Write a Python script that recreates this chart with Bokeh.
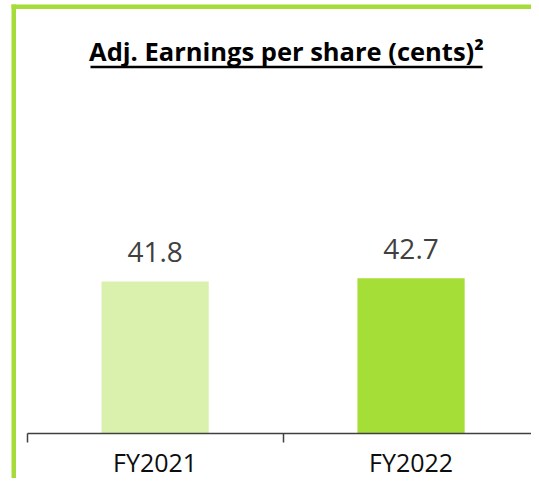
from bokeh.plotting import figure
from bokeh.models import Range1d, FixedTicker, Label
from bokeh.core.properties import value
from bokeh.embed import file_html
from bokeh.resources import INLINE

# ---- data ----
categories = ["FY2021", "FY2022"]
eps_values = [41.8, 42.7]
bar_colors = ["#d9f1ad", "#a6de38"]
title_text = "Adj. Earnings per share (cents)\u00b2"

# ---- layout (canvas pixels) ----
W, H = 531, 478
AX_LEFT, AX_RIGHT = 26.7, 538.5   # canvas x of category boundaries 0 and N
AX_Y = 433.3                      # canvas y of the baseline
PX_PER_UNIT = 3.644
GREEN = "#a6dc3a"

n = len(categories)
xs = [i + 0.5 for i in range(n)]
boundaries = list(range(n + 1))

ppx = (AX_RIGHT - AX_LEFT) / n
x_start = -AX_LEFT / ppx
x_end = (W - AX_LEFT) / ppx
y_start = -(H - AX_Y) / PX_PER_UNIT
y_end = AX_Y / PX_PER_UNIT


def dx(px):
    return x_start + px / ppx


def dy(py):
    return y_end - py / PX_PER_UNIT


p = figure(width=W, height=H, output_backend="svg", toolbar_location=None,
           title=None,
           x_range=Range1d(x_start, x_end), y_range=Range1d(y_start, y_end),
           y_axis_location=None, min_border=0)
p.outline_line_color = None
p.grid.visible = False
p.background_fill_color = "white"
p.border_fill_color = "white"

# decorative green frame edges (left and top), canvas pixels -> data
p.segment(x0=[dx(13.25)], y0=[dy(4)], x1=[dx(13.25)], y1=[dy(H + 10)],
          line_color=GREEN, line_width=4.5, line_cap="butt")
p.segment(x0=[dx(11)], y0=[dy(6.25)], x1=[dx(W + 20)], y1=[dy(6.25)],
          line_color=GREEN, line_width=4.5, line_cap="butt")
# title underline
p.segment(x0=[dx(90)], y0=[dy(66.5)], x1=[dx(482)], y1=[dy(66.5)],
          line_color="black", line_width=2.6, line_cap="butt")

p.vbar(x=xs, top=eps_values, bottom=0, width=0.419, color=bar_colors, line_color=None)
p.text(x=xs, y=eps_values, text=[f"{v:.1f}" for v in eps_values],
       text_align="center", text_baseline="alphabetic", y_offset=-29.3,
       text_font=value("Open Sans"), text_font_size="28px", text_color="#404040")

ax = p.xaxis[0]
ax.fixed_location = 0
ax.bounds = (0, n)
ax.ticker = FixedTicker(ticks=xs, minor_ticks=boundaries)
ax.major_label_overrides = {x: c for x, c in zip(xs, categories)}
ax.major_tick_line_color = None
ax.major_tick_out = 0
ax.major_tick_in = 0
ax.minor_tick_out = 9
ax.minor_tick_in = 0
ax.minor_tick_line_color = "#404040"
ax.minor_tick_line_width = 1.5
ax.axis_line_color = "#404040"
ax.axis_line_width = 1.5
ax.major_label_text_font = "Open Sans"
ax.major_label_text_font_size = "25px"
ax.major_label_text_color = "#0d0d0d"
ax.major_label_standoff = 2

title = Label(x=286, y=H - 50.0, x_units="screen", y_units="screen",
              text=title_text, text_align="center", text_baseline="alphabetic",
              text_font="Open Sans", text_font_style="bold", text_font_size="25.5px",
              text_color="black")
p.add_layout(title)

open("out.html", "w").write(file_html(p, INLINE))
